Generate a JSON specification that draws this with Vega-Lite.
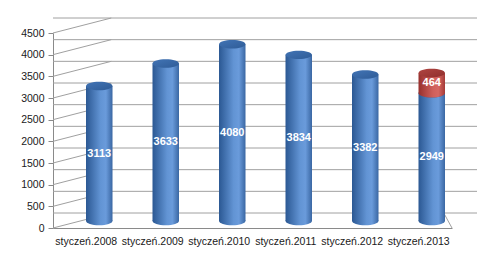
{
  "$schema": "https://vega.github.io/schema/vega-lite/v6.json",
  "autosize": {"type": "none"},
  "width": 399,
  "height": 195,
  "padding": {"left": 53, "top": 33, "right": 48, "bottom": 30},
  "background": "white",
  "config": {
    "view": {"stroke": null},
    "font": "Liberation Sans",
    "axis": {"labelFont": "Liberation Sans", "labelFontSize": 10.5, "labelColor": "#1a1a1a"},
    "axisY": {"tickCount": 10, "labelOverlap": false, "format": "d", "title": null, "grid": false, "tickSize": 5, "tickColor": "#8a8a8a", "domainColor": "#8a8a8a", "labelPadding": 4}
  },
  "datasets": {
    "dane": [
      {"rok": "styczeń.2008", "seria": "A", "wartosc": 3113},
      {"rok": "styczeń.2009", "seria": "A", "wartosc": 3633},
      {"rok": "styczeń.2010", "seria": "A", "wartosc": 4080},
      {"rok": "styczeń.2011", "seria": "A", "wartosc": 3834},
      {"rok": "styczeń.2012", "seria": "A", "wartosc": 3382},
      {"rok": "styczeń.2013", "seria": "A", "wartosc": 2949},
      {"rok": "styczeń.2013", "seria": "B", "wartosc": 464}
    ],
    "siatka": [
      {"v": 0}, {"v": 500}, {"v": 1000}, {"v": 1500}, {"v": 2000},
      {"v": 2500}, {"v": 3000}, {"v": 3500}, {"v": 4000}, {"v": 4500}
    ]
  },
  "encoding": {
    "x": {
      "field": "rok", "type": "nominal",
      "scale": {"paddingInner": 0, "paddingOuter": 0, "domain": ["styczeń.2008","styczeń.2009","styczeń.2010","styczeń.2011","styczeń.2012","styczeń.2013"]},
      "axis": {"title": null, "labelAngle": 0, "ticks": false, "domainColor": "#8a8a8a", "labelPadding": 8}
    }
  },
  "layer": [
    {
      "data": {"name": "siatka"},
      "mark": {"type": "rule", "color": "#a0a0a0", "strokeWidth": 1, "xOffset": 25, "x2Offset": 25, "yOffset": -15},
      "encoding": {
        "x": null,
        "y": {"field": "v", "type": "quantitative", "scale": {"domain": [0, 4500]},
          "axis": {"title": null, "values": [0,500,1000,1500,2000,2500,3000,3500,4000,4500], "format": "d", "labelOverlap": false}}
      }
    },
    {
      "data": {"name": "siatka"},
      "mark": {"type": "rule", "color": "#a0a0a0", "strokeWidth": 1, "x2Offset": 25, "y2Offset": -15},
      "encoding": {
        "x": {"datum": "styczeń.2008", "bandPosition": 0},
        "x2": {"datum": "styczeń.2008"},
        "y": {"field": "v", "type": "quantitative"},
        "y2": {"field": "v"}
      }
    },
    {
      "data": {"values": [{"v": 0}]},
      "mark": {"type": "rule", "color": "#a0a0a0", "strokeWidth": 1, "x2Offset": 25, "y2Offset": -15},
      "encoding": {
        "x": {"datum": "styczeń.2013", "bandPosition": 1},
        "x2": {"datum": "styczeń.2013"},
        "y": {"field": "v", "type": "quantitative"},
        "y2": {"field": "v"}
      }
    },
    {
      "data": {"name": "dane"},
      "transform": [
        {"stack": "wartosc", "groupby": ["rok"], "sort": [{"field": "seria"}], "as": ["y0", "y1"]},
        {"calculate": "(datum.y0 + datum.y1) / 2", "as": "srodek"}
      ],
      "layer": [
        {
          "transform": [{"filter": "datum.seria === 'A'"}],
          "layer": [
            {
              "mark": {"type": "point", "filled": true, "opacity": 1, "size": 700, "xOffset": 13, "yOffset": -7,
                "shape": "M -1 0 A 1 0.32 0 1 0 1 0 A 1 0.32 0 1 0 -1 0 Z",
                "fill": {"gradient": "linear", "x1": 0, "x2": 1, "y1": 0, "y2": 0, "stops": [
                  {"offset": 0, "color": "#2b5893"}, {"offset": 0.55, "color": "#6294d4"}, {"offset": 0.75, "color": "#6a9bdb"}, {"offset": 1, "color": "#3a67a3"}]}},
              "encoding": {"y": {"field": "y0", "type": "quantitative"}}
            },
            {
              "mark": {"type": "bar", "width": 26.5, "xOffset": 13, "yOffset": -7, "y2Offset": -7,
                "fill": {"gradient": "linear", "x1": 0, "x2": 1, "y1": 0, "y2": 0, "stops": [
                  {"offset": 0, "color": "#2b5893"}, {"offset": 0.55, "color": "#6294d4"}, {"offset": 0.75, "color": "#6a9bdb"}, {"offset": 1, "color": "#3a67a3"}]}},
              "encoding": {"y": {"field": "y0", "type": "quantitative"}, "y2": {"field": "y1"}}
            },
            {
              "mark": {"type": "point", "filled": true, "opacity": 1, "size": 700, "xOffset": 13, "yOffset": -7,
                "shape": "M -1 0 A 1 0.32 0 1 0 1 0 A 1 0.32 0 1 0 -1 0 Z",
                "fill": {"gradient": "linear", "x1": 0, "x2": 1, "y1": 0, "y2": 1, "stops": [
                  {"offset": 0, "color": "#4274b5"}, {"offset": 1, "color": "#2f5c97"}]}},
              "encoding": {"y": {"field": "y1", "type": "quantitative"}}
            }
          ]
        },
        {
          "transform": [{"filter": "datum.seria === 'B'"}],
          "layer": [
            {
              "mark": {"type": "point", "filled": true, "opacity": 1, "size": 700, "xOffset": 13, "yOffset": -7,
                "shape": "M -1 0 A 1 0.32 0 1 0 1 0 A 1 0.32 0 1 0 -1 0 Z",
                "fill": {"gradient": "linear", "x1": 0, "x2": 1, "y1": 0, "y2": 0, "stops": [
                  {"offset": 0, "color": "#97302d"}, {"offset": 0.55, "color": "#d0605c"}, {"offset": 0.75, "color": "#d66763"}, {"offset": 1, "color": "#a43a37"}]}},
              "encoding": {"y": {"field": "y0", "type": "quantitative"}}
            },
            {
              "mark": {"type": "bar", "width": 26.5, "xOffset": 13, "yOffset": -7, "y2Offset": -7,
                "fill": {"gradient": "linear", "x1": 0, "x2": 1, "y1": 0, "y2": 0, "stops": [
                  {"offset": 0, "color": "#97302d"}, {"offset": 0.55, "color": "#d0605c"}, {"offset": 0.75, "color": "#d66763"}, {"offset": 1, "color": "#a43a37"}]}},
              "encoding": {"y": {"field": "y0", "type": "quantitative"}, "y2": {"field": "y1"}}
            },
            {
              "mark": {"type": "point", "filled": true, "opacity": 1, "size": 700, "xOffset": 13, "yOffset": -7,
                "shape": "M -1 0 A 1 0.32 0 1 0 1 0 A 1 0.32 0 1 0 -1 0 Z",
                "fill": {"gradient": "linear", "x1": 0, "x2": 1, "y1": 0, "y2": 1, "stops": [
                  {"offset": 0, "color": "#b04542"}, {"offset": 1, "color": "#8f2f2c"}]}},
              "encoding": {"y": {"field": "y1", "type": "quantitative"}}
            }
          ]
        },
        {
          "mark": {"type": "text", "color": "white", "fontWeight": "bold", "fontSize": 11, "font": "Liberation Sans", "xOffset": 13, "yOffset": -7},
          "encoding": {"y": {"field": "srodek", "type": "quantitative"}, "text": {"field": "wartosc", "type": "quantitative"}}
        }
      ]
    }
  ]
}
